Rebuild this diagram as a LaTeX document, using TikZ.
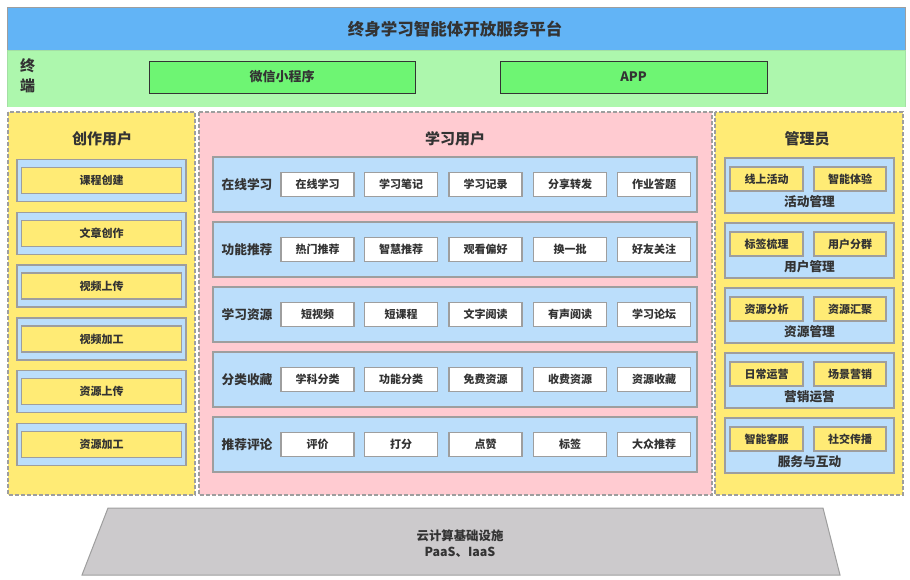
\documentclass[tikz,border=0pt]{standalone}
\usepackage{fontspec}
\setmainfont{Noto Sans CJK SC}
\definecolor{barblue}{HTML}{62B4F6}
\definecolor{bandgreen}{HTML}{ADF7AD}
\definecolor{boxgreen}{HTML}{6EF573}
\definecolor{colyellow}{HTML}{FFEB75}
\definecolor{colpink}{HTML}{FFCBD1}
\definecolor{lightblue}{HTML}{BBDEFB}
\definecolor{edgegray}{HTML}{9E9E9E}
\definecolor{txt}{HTML}{333333}
\definecolor{cloudgray}{HTML}{CCCACC}
\tikzset{
  every node/.style={text=txt, font=\bfseries},
  colbox/.style={draw=edgegray, line width=1.2pt, dash pattern=on 4pt off 2pt},
  groupbox/.style={draw=edgegray, line width=1.5pt, fill=lightblue},
  itembox/.style={draw=edgegray, line width=1.5pt, minimum height=24pt, inner sep=0pt, font=\bfseries\fontsize{11}{13}\selectfont},
  whitebox/.style={itembox, fill=white, minimum width=73pt},
  yelbox/.style={itembox, fill=colyellow},
  rowlabel/.style={font=\bfseries\fontsize{12.7}{15}\selectfont},
  coltitle/.style={font=\bfseries\fontsize{15}{17}\selectfont},
  grplabel/.style={font=\bfseries\fontsize{12.7}{15}\selectfont},
}
\begin{document}
\begin{tikzpicture}[x=1pt,y=-1pt]
\useasboundingbox (0,0) rectangle (910,579);
% top bar
\node[draw=edgegray, fill=barblue, minimum width=898pt, minimum height=43pt, anchor=north west, inner sep=0pt, line width=0.8pt] (top) at (7,7) {};
\node[font=\bfseries\fontsize{16.5}{19}\selectfont] (toptxt) at (455,29) {终身学习智能体开放服务平台};
% terminal band
\node[fill=bandgreen, draw=bandgreen!80!gray, minimum width=898pt, minimum height=57pt, anchor=north west, inner sep=0pt] (band) at (7,50) {};
\node[font=\bfseries\fontsize{15}{17}\selectfont, align=center, inner sep=0pt] (termlbl) at (27.5,76) {终\\[3pt]端};
\node[draw=txt, line width=0.8pt, fill=boxgreen, minimum width=266pt, minimum height=32pt, inner sep=0pt, font=\bfseries\fontsize{13}{15}\selectfont] (wx) at (282,77) {微信小程序};
\node[draw=txt, line width=0.8pt, fill=boxgreen, minimum width=267pt, minimum height=32pt, inner sep=0pt, font=\bfseries\fontsize{13}{15}\selectfont] (app) at (633.5,77) {APP};
% columns
\fill[white] (0,107) rectangle (910,500);
\draw[colbox, fill=colyellow] (8,112) rectangle (195,495);
\draw[colbox, fill=colpink] (199,112) rectangle (712,495);
\draw[colbox, fill=colyellow] (715,112) rectangle (903,495);
\node[coltitle] (t1) at (102,139) {创作用户};
\node[coltitle] (t2) at (455,139) {学习用户};
\node[coltitle] (t3) at (807,139) {管理员};
% left column
\foreach \i/\t in {0/课程创建,1/文章创作,2/视频上传,3/视频加工,4/资源上传,5/资源加工}{
  \pgfmathsetmacro{\yc}{180.5+52.8*\i}
  \node[groupbox, minimum width=169pt, minimum height=42pt, inner sep=0pt] (lg\i) at (101.5,\yc) {};
  \node[yelbox, minimum width=160pt, minimum height=26pt] (li\i) at (lg\i.center) {\t};
}
% middle column
\foreach \i/\lab/\a/\b/\c/\d/\e in {
 0/在线学习/在线学习/学习笔记/学习记录/分享转发/作业答题,
 1/功能推荐/热门推荐/智慧推荐/观看偏好/换一批/好友关注,
 2/学习资源/短视频/短课程/文字阅读/有声阅读/学习论坛,
 3/分类收藏/学科分类/功能分类/免费资源/收费资源/资源收藏,
 4/推荐评论/评价/打分/点赞/标签/大众推荐}{
  \pgfmathsetmacro{\yc}{184.5+65*\i}
  \node[groupbox, minimum width=484pt, minimum height=55pt, inner sep=0pt] (mg\i) at (455,\yc) {};
  \node[rowlabel] (ml\i) at (247,\yc) {\lab};
  \node[whitebox] (ma\i) at (317.5,\yc) {\a};
  \node[whitebox] (mb\i) at (401,\yc) {\b};
  \node[whitebox] (mc\i) at (485.5,\yc) {\c};
  \node[whitebox] (md\i) at (570,\yc) {\d};
  \node[whitebox] (me\i) at (654,\yc) {\e};
}
% right column
\foreach \i/\lab/\a/\b in {
 0/活动管理/线上活动/智能体验,
 1/用户管理/标签梳理/用户分群,
 2/资源管理/资源分析/资源汇聚,
 3/营销运营/日常运营/场景营销,
 4/服务与互动/智能客服/社交传播}{
  \pgfmathsetmacro{\yt}{157+65*\i}
  \node[groupbox, minimum width=169pt, minimum height=55pt, inner sep=0pt, anchor=north] (rg\i) at (809.5,\yt) {};
  \node[yelbox, minimum width=73pt] (ra\i) at (766.5,\yt+22) {\a};
  \node[yelbox, minimum width=72pt] (rb\i) at (850,\yt+22) {\b};
  \node[grplabel] (rl\i) at (809.5,\yt+45) {\lab};
}
% cloud infrastructure
\draw[fill=cloudgray, draw=edgegray, line width=1pt] (108,508) -- (823,508) -- (840,575) -- (82,575) -- cycle;
\node[font=\bfseries\fontsize{12.4}{16.5}\selectfont, align=center] (cloud) at (460,543.5) {云计算基础设施\\PaaS、IaaS};
\end{tikzpicture}
\end{document}
